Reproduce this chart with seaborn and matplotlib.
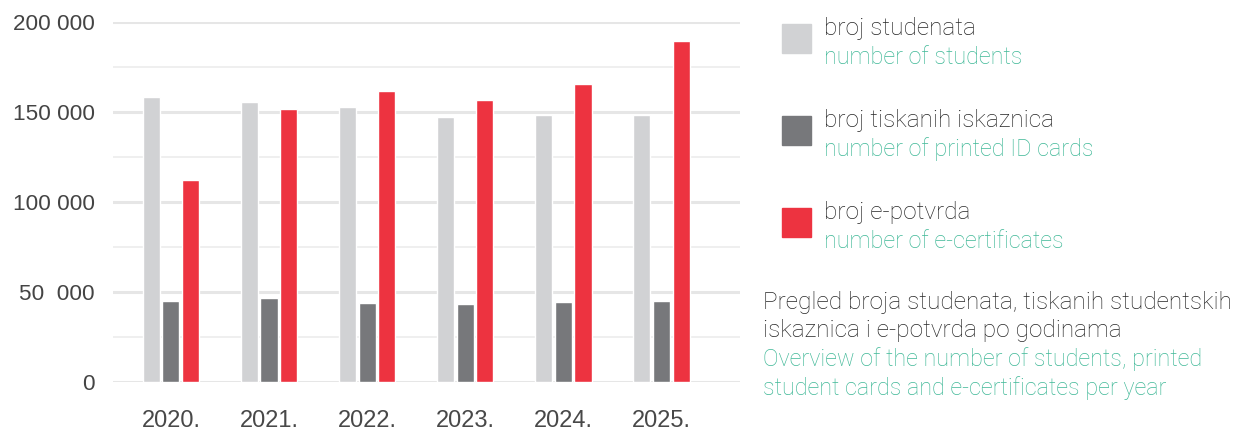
import pandas as pd
import numpy as np
import seaborn as sns
import matplotlib.pyplot as plt
from matplotlib.patches import Rectangle
from matplotlib.ticker import MultipleLocator

years = ["2020.", "2021.", "2022.", "2023.", "2024.", "2025."]
students = [158500, 155500, 152700, 147000, 148300, 148300]
printed_cards = [44900, 46500, 43800, 43200, 44400, 44900]
e_certs = [112200, 151600, 161800, 156600, 165500, 189500]

series_hr = ["broj studenata", "broj tiskanih iskaznica", "broj e-potvrda"]
series_en = ["number of students", "number of printed ID cards", "number of e-certificates"]
colors = ["#d1d2d4", "#77787b", "#ed3340"]

ytick_vals = [0, 50000, 100000, 150000, 200000]
ytick_labels = ["0", "50  000", "100 000", "150 000", "200 000"]

note_hr = ["Pregled broja studenata, tiskanih studentskih", "iskaznica i e-potvrda po godinama"]
note_en = ["Overview of the number of students, printed", "student cards and e-certificates per year"]

df = pd.DataFrame({
    "year": years * 3,
    "series": np.repeat(series_hr, len(years)),
    "value": students + printed_cards + e_certs,
})

sns.set_theme(style="white")
plt.rcParams["font.family"] = ["Roboto", "DejaVu Sans"]

fig = plt.figure(figsize=(12.36, 4.32), dpi=100)
ax = fig.add_axes([113 / 1236, 1 - 382 / 432, (740 - 113) / 1236, (382 - 22) / 432])

sns.barplot(data=df, x="year", y="value", hue="series", palette=colors,
            width=0.6, gap=0.13, saturation=1, legend=False, ax=ax, zorder=3)

ax.set_ylim(0, 200000)
ax.set_xlim(-0.59, 5.8)
ax.yaxis.set_major_locator(MultipleLocator(50000))
ax.yaxis.set_minor_locator(MultipleLocator(25000))
ax.grid(which="major", axis="y", color="#e6e6e6", linewidth=2.2, zorder=0)
ax.grid(which="minor", axis="y", color="#ececec", linewidth=1.2, zorder=0)
ax.grid(False, axis="x")
for s in ax.spines.values():
    s.set_visible(False)

ax.set_yticks(ytick_vals)
ax.set_yticklabels(ytick_labels, fontfamily="Liberation Sans", fontsize=16.2, color="#444444")
ax.tick_params(axis="y", length=0, pad=13)
ax.tick_params(axis="x", length=0, pad=20, labelsize=17, labelcolor="#484848")
for t in ax.get_xticklabels():
    t.set_fontfamily("Liberation Sans")
ax.set_xlabel("")
ax.set_ylabel("")

# legend on the right
hr_col = "#262626"
en_col = "#3fb897"
fs_hr = 17.6
fs_en = 16.8
for i, (hr, en, c) in enumerate(zip(series_hr, series_en, colors)):
    top = 24 + i * 92
    fig.add_artist(Rectangle((782 / 1236, 1 - (top + 29) / 432), 29 / 1236, 29 / 432,
                             transform=fig.transFigure, color=c))
    fig.text(824 / 1236, 1 - (top + 5) / 432, hr, fontsize=fs_hr, fontweight="light",
             color=hr_col, va="center")
    fig.text(824 / 1236, 1 - (top + 33) / 432, en, fontsize=fs_en, fontweight="light",
             color=en_col, va="center")

note_y = [302, 331, 359, 388]
for y, line, col, fs in zip(note_y, note_hr + note_en, [hr_col] * 2 + [en_col] * 2,
                            [fs_hr] * 2 + [fs_en] * 2):
    fig.text(763 / 1236, 1 - y / 432, line, fontsize=fs, fontweight="light",
             color=col, va="center")

fig.savefig("out.png", dpi=100)
